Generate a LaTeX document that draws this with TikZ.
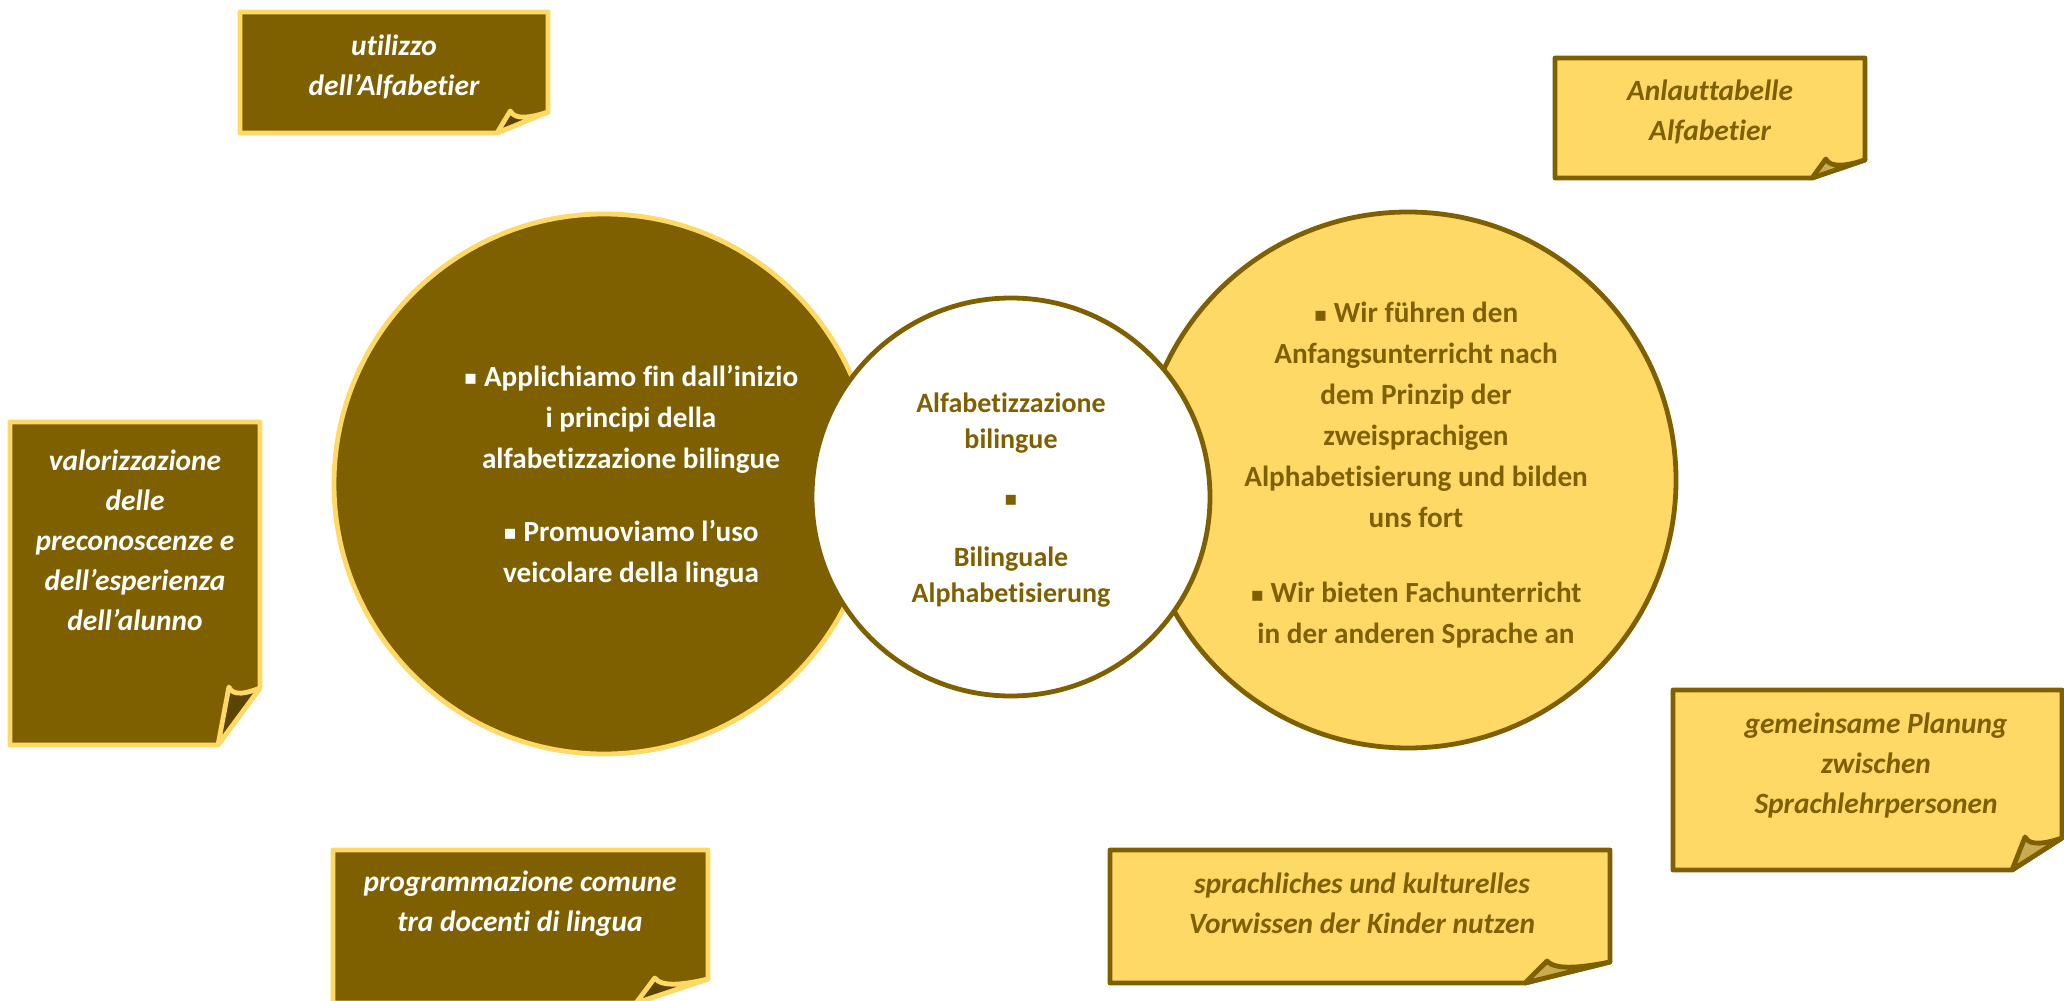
\documentclass[tikz,border=0pt]{standalone}
\usepackage{fontspec}
\setmainfont{Carlito}[Ligatures=CommonOff]
\newfontfamily\bulletfont{DejaVu Sans}
\usetikzlibrary{positioning}

\definecolor{darkgold}{HTML}{7F6000}
\definecolor{lightgold}{HTML}{FFD966}
\definecolor{flapdark}{HTML}{5C4500}
\definecolor{flaplight}{HTML}{C9AB52}

\newcommand{\sqb}{{\bulletfont\fontsize{10}{10}\selectfont\raisebox{0.6pt}{▪}}}

% sticky note: style, x1, y1, x2, y2, fold width, fold height
\newcommand{\stickynote}[7]{%
  \draw[#1] (#2,#3) -- (#4,#3) -- (#4,#5-#7) -- (#4-#6,#5) -- (#2,#5) -- cycle;
  \draw[#1 flap] (#4-#6,#5) -- (#4-0.74*#6,#5-#7-1)
    .. controls (#4-0.64*#6,#5-#7+9) and (#4-0.3*#6,#5-#7+5) .. (#4,#5-#7) -- cycle;
}

\begin{document}
\begin{tikzpicture}[x=0.5pt,y=-0.5pt,line join=round,
  darknote/.style={fill=darkgold,draw=lightgold,line width=2.4pt},
  darknote flap/.style={fill=flapdark,draw=lightgold,line width=2.4pt},
  lightnote/.style={fill=lightgold,draw=darkgold,line width=2.4pt},
  lightnote flap/.style={fill=flaplight,draw=darkgold,line width=2.4pt},
  bigcircle/.style={circle,inner sep=0pt,line width=2.4pt},
  circtext/.style={align=center,font=\fontsize{14.6}{20.5}\selectfont\bfseries},
  notetext/.style={align=center,font=\fontsize{14.7}{20}\selectfont\bfseries\itshape}]

  \clip (0,0) rectangle (2064,1000);

  % circles
  \node[bigcircle,fill=darkgold,draw=lightgold,minimum size=540pt*0.5] (left) at (604,484) {};
  \node[bigcircle,fill=lightgold,draw=darkgold,minimum size=536pt*0.5] (right) at (1408,480) {};
  \node[bigcircle,fill=white,draw=darkgold,minimum size=398pt*0.5] (middle) at (1011,497) {};

  \node[circtext,text=white] (lefttext) at (631,476)
    {\sqb\ Applichiamo fin dall’inizio\\ i principi della\\ alfabetizzazione bilingue\\[16pt]
     \sqb\ Promuoviamo l’uso\\ veicolare della lingua};
  \node[circtext,text=darkgold] (righttext) at (1416,475)
    {\sqb\ Wir führen den\\ Anfangsunterricht nach\\ dem Prinzip der\\ zweisprachigen\\
     Alphabetisierung und bilden\\ uns fort\\[17pt]
     \sqb\ Wir bieten Fachunterricht\\ in der anderen Sprache an};
  \node[circtext,text=darkgold,font=\fontsize{14}{18}\selectfont\bfseries] (middletext) at (1011,500)
    {Alfabetizzazione\\ bilingue\\[11pt] \sqb\\[12pt] Bilinguale\\ Alphabetisierung};

  % sticky notes
  \stickynote{darknote}{240}{12}{548}{133}{51}{21}
  \stickynote{darknote}{10}{422}{260}{745}{42}{57}
  \stickynote{darknote}{333}{850}{708}{1003}{72}{24}
  \stickynote{lightnote}{1555}{58}{1865}{178}{53}{18}
  \stickynote{lightnote}{1673}{690}{2062}{870}{50}{32}
  \stickynote{lightnote}{1110}{850}{1610}{983}{85}{21}

  \node[notetext,text=white] (utilizzo) at (394,67) {utilizzo\\ dell’Alfabetier};
  \node[notetext,text=white] (valorizzazione) at (135,540)
    {valorizzazione\\ delle\\ preconoscenze e\\ dell’esperienza\\ dell’alunno};
  \node[notetext,text=white] (programmazione) at (520,904)
    {programmazione comune\\ tra docenti di lingua};
  \node[notetext,text=darkgold] (anlaut) at (1710,112) {Anlauttabelle\\ Alfabetier};
  \node[notetext,text=darkgold] (planung) at (1876,765)
    {gemeinsame Planung\\ zwischen\\ Sprachlehrpersonen};
  \node[notetext,text=darkgold] (vorwissen) at (1362,903)
    {sprachliches und kulturelles\\ Vorwissen der Kinder nutzen};

\end{tikzpicture}
\end{document}
